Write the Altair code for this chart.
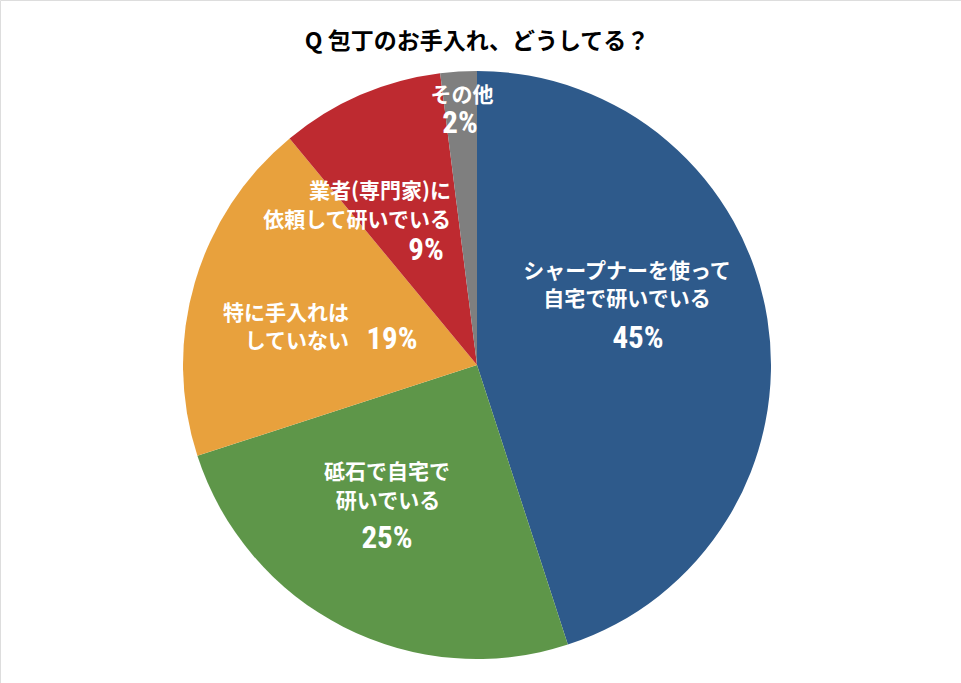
import altair as alt
import pandas as pd

# ---- data ----
categories = ["シャープナーを使って自宅で研いでいる", "砥石で自宅で研いでいる", "特に手入れはしていない",
              "業者(専門家)に依頼して研いでいる", "その他"]
values = [45, 25, 19, 9, 2]
colors = ["#2E5A8B", "#5E9649", "#E8A13D", "#BE2A30", "#7F7F7F"]
title_text = "Q 包丁のお手入れ、どうしてる？"

# label text lines per slice (category lines, percentage)
label_lines = [
    ["シャープナーを使って", "自宅で研いでいる"],
    ["砥石で自宅で", "研いでいる"],
    ["特に手入れは", "していない"],
    ["業者(専門家)に", "依頼して研いでいる"],
    ["その他"],
]
pct_texts = [f"{v}%" for v in values]

# ---- layout (annotation placement, pixels) ----
CX, CY, R = 477, 365, 294
line_pos = [  # (x, y, align) for each category line
    [(627, 272, "center"), (627, 300, "center")],
    [(387, 473, "center"), (388, 502, "center")],
    [(349, 314, "right"), (349, 342, "right")],
    [(451, 192, "right"), (451, 221, "right")],
    [(462, 96, "center")],
]
pct_pos = [(638, 339), (387, 539), (392, 340), (426, 251), (460, 124)]

pie_df = pd.DataFrame({"cat": categories, "value": values, "order": list(range(len(values)))})

rows, prows = [], []
for i, lines in enumerate(label_lines):
    for t, (x, y, a) in zip(lines, line_pos[i]):
        rows.append({"t": t, "x": x, "y": y, "align": a})
    px, py = pct_pos[i]
    prows.append({"t": pct_texts[i], "x": px, "y": py})
lab_df = pd.DataFrame(rows)
pct_df = pd.DataFrame(prows)

FONT = "Noto Sans CJK JP"
PFONT = "'Liberation Sans Narrow', 'Roboto Condensed', 'Noto Sans CJK JP'"

pie = alt.Chart(pie_df).mark_arc(outerRadius=R).encode(
    theta=alt.Theta("value:Q", stack=True),
    order=alt.Order("order:Q"),
    color=alt.Color("cat:N", scale=alt.Scale(domain=categories, range=colors), legend=None),
    x=alt.value(CX),
    y=alt.value(CY),
)

def text_layer(align):
    d = lab_df[lab_df["align"] == align]
    return alt.Chart(d).mark_text(
        font=FONT, fontWeight="bold", fontSize=21, color="white", align=align, baseline="middle"
    ).encode(
        x=alt.X("x:Q", scale=None),
        y=alt.Y("y:Q", scale=None),
        text="t:N",
    )

pct = alt.Chart(pct_df).mark_text(
    font=PFONT, fontWeight="bold", fontSize=31, color="white", align="center", baseline="middle"
).encode(x=alt.X("x:Q", scale=None), y=alt.Y("y:Q", scale=None), text="t:N")

title = alt.Chart(pd.DataFrame({"t": [title_text]})).mark_text(
    font=FONT, fontWeight="bold", fontSize=23, color="black", align="center", baseline="middle"
).encode(x=alt.value(CX), y=alt.value(42), text="t:N")

chart = alt.layer(pie, text_layer("center"), text_layer("right"), pct, title).properties(
    width=961, height=683, autosize=alt.AutoSizeParams(type="none"), padding=0
).configure_view(stroke=None).configure(background="white")

chart.save("out.html", embed_options={"renderer": "svg", "actions": False})
